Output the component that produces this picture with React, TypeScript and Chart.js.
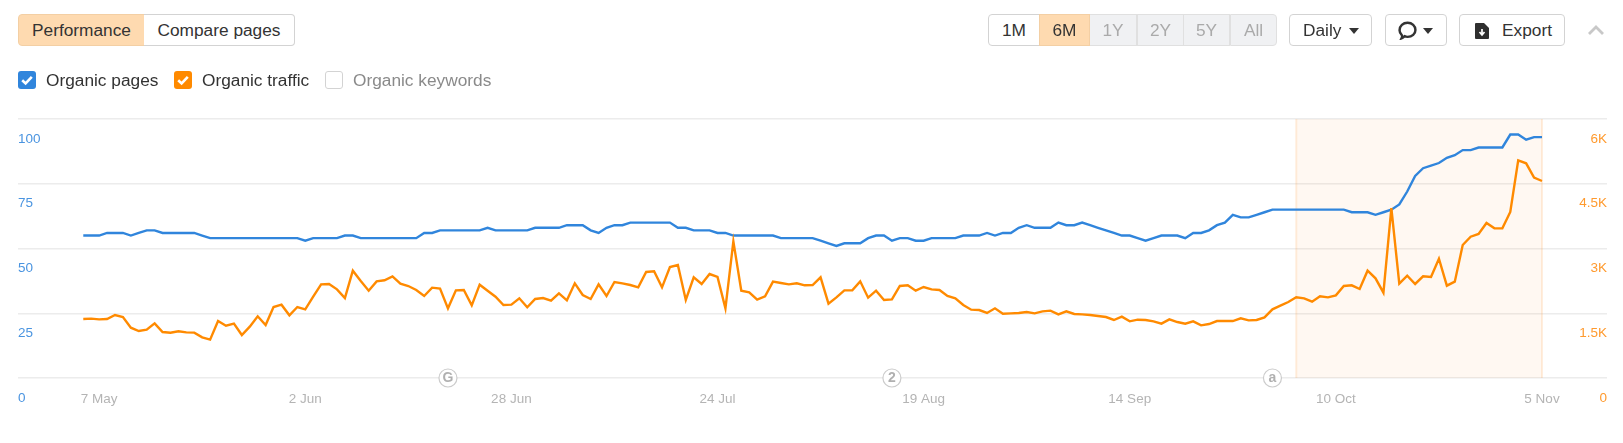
import React, { useEffect, useRef } from "react";
import { Chart, registerables } from "chart.js";

Chart.register(...registerables);

const organicPages = [
  55,55,55,56,56,56,55,56,57,57,56,56,56,56,56,55,54,54,54,54,54,54,54,54,54,54,54,54,53,54,
  54,54,54,55,55,54,54,54,54,54,54,54,54,56,56,57,57,57,57,57,57,58,57,57,57,57,57,58,58,58,
  58,59,59,59,57,56,58,59,59,60,60,60,60,60,60,58,58,57,57,57,56,56,55,55,55,55,55,55,54,54,
  54,54,54,53,52,51,52,52,52,54,55,55,53,54,54,53,53,54,54,54,54,55,55,55,56,55,56,56,58,59,
  58,58,58,60,59,59,60,59,58,57,56,55,55,54,53,54,55,55,55,54,56,56,57,59,60,63,62,62,63,64,
  65,65,65,65,65,65,65,65,65,65,64,64,64,63,64,65,67,72,78,81,82,83,85,86,88,88,89,89,89,89,
  94,94,92,93,93,
];
const organicTraffic = [
  1367,1375,1359,1367,1459,1413,1166,1089,1120,1266,1066,1050,1081,1058,1050,942,888,1320,1212,1259,
  996,1189,1429,1228,1645,1699,1452,1645,1591,1884,2170,2178,2054,1853,2486,2247,2023,2239,2263,2355,
  2185,2131,2039,1900,2093,2070,1614,2031,2039,1683,2162,2023,1884,1691,1699,1846,1637,1830,1853,1792,
  1961,1799,2193,1923,1830,2170,1900,2224,2193,2154,2100,2456,2471,2100,2571,2618,1807,2332,2178,2409,
  2340,1614,3166,2023,1985,1815,1892,2232,2201,2170,2193,2147,2154,2332,1722,1869,2031,2031,2239,1861,
  2023,1807,1822,2131,2147,2023,2108,2054,2039,1900,1846,1691,1583,1575,1506,1614,1490,1498,1506,1529,
  1498,1544,1560,1475,1544,1483,1475,1459,1436,1413,1344,1421,1313,1351,1344,1313,1259,1359,1297,1259,
  1313,1220,1251,1320,1320,1320,1382,1336,1344,1405,1591,1676,1761,1869,1846,1768,1892,1869,1915,2131,
  2147,2062,2486,2309,1977,3938,2185,2371,2178,2355,2340,2764,2139,2232,3081,3274,3336,3591,3467,3467,
  3846,5042,4973,4641,4564,
];
const xTickIndices = [2, 28, 54, 80, 106, 132, 158, 184];
const xTickLabels = ["7 May", "2 Jun", "28 Jun", "24 Jul", "19 Aug", "14 Sep", "10 Oct", "5 Nov"];
const leftTicks = [0, 25, 50, 75, 100];
const rightTicks = [0, 1500, 3000, 4500, 6000];
const rightTickLabels = ["0", "1.5K", "3K", "4.5K", "6K"];
const highlightRange = [153, 184];
const eventIndices = [46, 102, 150];
const eventLabels = ["G", "2", "a"];

const FONT = "'Liberation Sans', Arial, sans-serif";
const BLUE = "#3085dc";
const ORANGE = "#ff8a00";

const highlightPlugin = {
  id: "highlight",
  beforeDatasetsDraw(chart: any) {
    const { ctx, chartArea, scales } = chart;
    const x0 = scales.x.getPixelForValue(highlightRange[0]);
    const x1 = scales.x.getPixelForValue(highlightRange[1]);
    ctx.save();
    ctx.fillStyle = "rgba(255,160,70,0.07)";
    ctx.fillRect(x0, chartArea.top, x1 - x0, chartArea.bottom - chartArea.top);
    ctx.fillStyle = "rgba(255,150,50,0.16)";
    ctx.fillRect(x0 - 1, chartArea.top, 2, chartArea.bottom - chartArea.top);
    ctx.fillRect(x1 - 1, chartArea.top, 2, chartArea.bottom - chartArea.top);
    ctx.restore();
  },
};

const eventPlugin = {
  id: "events",
  afterDatasetsDraw(chart: any) {
    const { ctx, chartArea, scales } = chart;
    ctx.save();
    eventIndices.forEach((idx, i) => {
      const x = scales.x.getPixelForValue(idx);
      const y = chartArea.bottom;
      ctx.beginPath();
      ctx.arc(x, y, 9, 0, Math.PI * 2);
      ctx.fillStyle = "#fff";
      ctx.fill();
      ctx.lineWidth = 1.2;
      ctx.strokeStyle = "#ccc";
      ctx.stroke();
      ctx.fillStyle = "#b0b0b0";
      ctx.font = `bold 14px ${FONT}`;
      ctx.textAlign = "center";
      ctx.textBaseline = "middle";
      ctx.fillText(eventLabels[i], x, y + 0.5);
    });
    ctx.restore();
  },
};

const TOP_FONT = 17.3;

const box = (x: number, w: number, extra: React.CSSProperties = {}): React.CSSProperties => ({
  position: "absolute",
  left: x,
  top: 14,
  width: w,
  height: 32,
  boxSizing: "border-box",
  display: "flex",
  alignItems: "center",
  justifyContent: "center",
  border: "1px solid #d3d3d3",
  background: "#fff",
  color: "#333",
  fontSize: TOP_FONT,
  ...extra,
});

const Check = ({ x, color }: { x: number; color: string }) => (
  <svg style={{ position: "absolute", left: x, top: 71 }} width="18" height="18" viewBox="0 0 18 18">
    <rect x="0" y="0" width="18" height="18" rx="3" fill={color} />
    <path d="M4.2 9.2 L7.6 12.4 L13.8 5.8" fill="none" stroke="#fff" strokeWidth="2.6" />
  </svg>
);

const Caret = ({ x, y = 28 }: { x: number; y?: number }) => (
  <svg style={{ position: "absolute", left: x, top: y }} width="10" height="6" viewBox="0 0 10 6">
    <path d="M0 0 H10 L5 6 Z" fill="#333" />
  </svg>
);

const label = (x: number, text: string, color = "#333") => (
  <div style={{ position: "absolute", left: x, top: 70, lineHeight: "20px", fontSize: TOP_FONT, color, whiteSpace: "nowrap" }}>{text}</div>
);

export default function App() {
  const ref = useRef<HTMLCanvasElement>(null);

  useEffect(() => {
    const chart = new Chart(ref.current as HTMLCanvasElement, {
      type: "line",
      data: {
        datasets: [
          {
            label: "Organic traffic",
            data: organicTraffic.map((y, x) => ({ x, y })),
            yAxisID: "yRight",
            borderColor: ORANGE,
            borderWidth: 2.4,
            pointRadius: 0,
            tension: 0,
          },
          {
            label: "Organic pages",
            data: organicPages.map((y, x) => ({ x, y })),
            yAxisID: "yLeft",
            borderColor: BLUE,
            borderWidth: 2.4,
            pointRadius: 0,
            tension: 0,
          },
        ],
      },
      options: {
        responsive: false,
        animation: false,
        devicePixelRatio: 1,
        layout: { padding: { left: 18, right: 16, top: 119, bottom: 0 } },
        plugins: { legend: { display: false }, tooltip: { enabled: false } },
        scales: {
          x: {
            type: "linear",
            min: -8.235,
            max: 192.2,
            grid: { display: false, drawTicks: false },
            border: { display: false },
            afterBuildTicks(axis: any) {
              axis.ticks = xTickIndices.map((value) => ({ value }));
            },
            afterFit(axis: any) {
              axis.height = 65;
            },
            ticks: {
              autoSkip: false,
              maxRotation: 0,
              minRotation: 0,
              padding: 13,
              color: "#b4b4b4",
              font: { family: FONT, size: 13.5 },
              callback: (_v: any, i: number) => xTickLabels[i],
            },
          },
          yLeft: {
            type: "linear",
            position: "left",
            min: 0,
            max: 100,
            grid: { color: "#ececec", lineWidth: 1.5, drawTicks: false },
            border: { display: false },
            afterBuildTicks(axis: any) {
              axis.ticks = leftTicks.map((value) => ({ value }));
            },
            afterFit(axis: any) {
              axis.width = 0;
            },
            ticks: {
              mirror: true,
              padding: 0,
              labelOffset: 20,
              color: "#4a94e0",
              font: { family: FONT, size: 13.5 },
            },
          },
          yRight: {
            type: "linear",
            position: "right",
            min: 0,
            max: 6000,
            grid: { display: false, drawTicks: false },
            border: { display: false },
            afterBuildTicks(axis: any) {
              axis.ticks = rightTicks.map((value) => ({ value }));
            },
            afterFit(axis: any) {
              axis.width = 0;
            },
            ticks: {
              mirror: true,
              padding: 0,
              labelOffset: 20,
              color: "#ff9a2e",
              font: { family: FONT, size: 13.5 },
              callback: (_v: any, i: number) => rightTickLabels[i],
            },
          },
        },
      },
      plugins: [highlightPlugin, eventPlugin],
    } as any);
    return () => chart.destroy();
  }, []);

  return (
    <div style={{ position: "absolute", left: 0, top: 0, width: 1623, height: 443, background: "#fff", overflow: "hidden", fontFamily: FONT }}>
      <canvas ref={ref} width={1623} height={443} style={{ position: "absolute", left: 0, top: 0, display: "block" }} />

      <div style={box(18, 127, { background: "#fedab0", borderColor: "#f3cfa4", borderRadius: "4px 0 0 4px" })}>Performance</div>
      <div style={box(144, 151, { borderLeft: "none", borderRadius: "0 4px 4px 0" })}>Compare pages</div>

      <Check x={18} color="#3085dc" />
      {label(46, "Organic pages")}
      <Check x={174} color="#ff8a00" />
      {label(202, "Organic traffic")}
      <div style={{ position: "absolute", left: 325, top: 71, width: 18, height: 18, boxSizing: "border-box", border: "1px solid #d3d3d3", borderRadius: 3 }} />
      {label(353, "Organic keywords", "#8a8a8a")}

      <div style={box(988, 52, { borderRadius: "4px 0 0 4px" })}>1M</div>
      <div style={box(1039, 51, { background: "#fedab0", borderColor: "#f3cfa4" })}>6M</div>
      <div style={box(1090, 47, { background: "#f0f1f3", color: "#aaa", borderColor: "#e0e0e0", borderLeft: "none" })}>1Y</div>
      <div style={box(1137, 47, { background: "#f0f1f3", color: "#aaa", borderColor: "#e0e0e0", borderLeft: "1px solid #e0e0e0" })}>2Y</div>
      <div style={box(1183, 47, { background: "#f0f1f3", color: "#aaa", borderColor: "#e0e0e0" })}>5Y</div>
      <div style={box(1230, 47, { background: "#f0f1f3", color: "#aaa", borderColor: "#e0e0e0", borderRadius: "0 4px 4px 0" })}>All</div>

      <div style={box(1289, 83, { borderRadius: 4, justifyContent: "flex-start", paddingLeft: 13 })}>Daily</div>
      <Caret x={1349} />
      <div style={box(1385, 62, { borderRadius: 4 })} />
      <svg style={{ position: "absolute", left: 1398, top: 21 }} width="19" height="19" viewBox="0 0 17 17">
        <path d="M3.2 15.5 C3.8 14.3 3.9 13.4 3.4 12.6 C2.2 11.4 1.4 9.9 1.4 8.2 C1.4 4.4 4.5 1.6 8.6 1.6 C12.6 1.6 15.6 4.4 15.6 8 C15.6 11.6 12.6 14.2 8.6 14.2 C7.6 14.2 6.7 14 5.9 13.6 C5 14.6 4.1 15.2 3.2 15.5 Z" fill="none" stroke="#333" strokeWidth="2.2" />
      </svg>
      <Caret x={1423} />
      <div style={box(1459, 106, { borderRadius: 4, justifyContent: "flex-start", paddingLeft: 42 })}>Export</div>
      <svg style={{ position: "absolute", left: 1474, top: 22 }} width="16" height="18" viewBox="0 0 16 18">
        <path d="M1 2 Q1 1 2 1 H10 L15 6 V16 Q15 17 14 17 H2 Q1 17 1 16 Z" fill="#2f2f2f" />
        <path d="M8 7 V12 M5.5 10 L8 13 L10.5 10" fill="none" stroke="#fff" strokeWidth="1.7" />
      </svg>
      <svg style={{ position: "absolute", left: 1586, top: 24 }} width="20" height="12" viewBox="0 0 20 12">
        <path d="M3 10 L10 3 L17 10" fill="none" stroke="#c8c8c8" strokeWidth="2.8" />
      </svg>
    </div>
  );
}
